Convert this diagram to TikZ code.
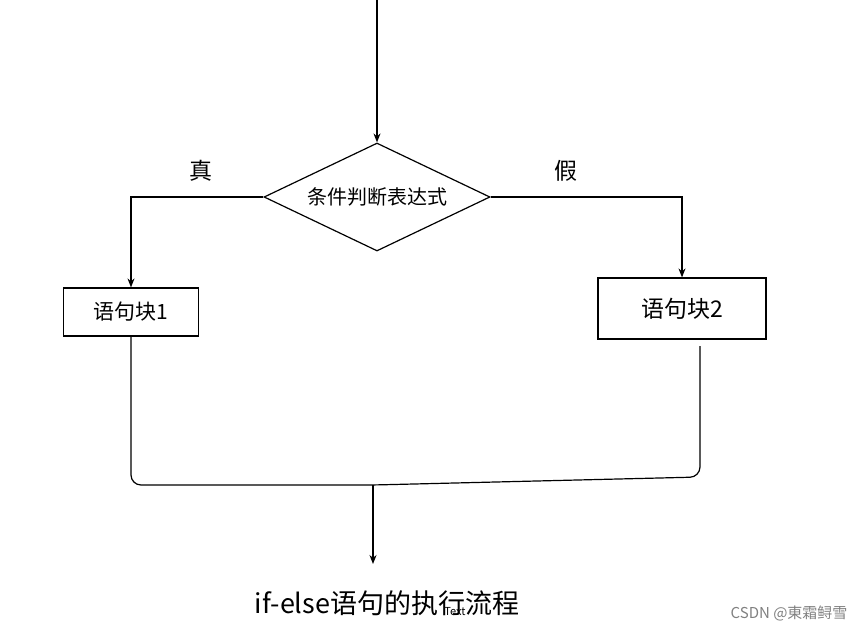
\documentclass[tikz,border=0pt]{standalone}
\usepackage{fontspec}
\setmainfont{Noto Sans CJK SC}
\usetikzlibrary{positioning, arrows.meta, shapes.geometric}

\begin{document}
\begin{tikzpicture}[x=1pt, y=-1pt,
    decision/.style={draw, diamond, aspect=2.09, minimum width=226pt,
                     minimum height=108pt, inner sep=0pt, line width=1.2pt,
                     font=\fontsize{20}{22}\selectfont},
    block/.style={draw, rectangle, inner sep=0pt, line width=1.2pt,
                  font=\fontsize{21}{24}\selectfont},
    flow/.style={-{Stealth[length=9pt, width=7pt]}, line width=1.2pt},
    merge/.style={line width=1.2pt, rounded corners=10pt}
  ]
    \useasboundingbox (0,0) rectangle (865,635);
    \coordinate (start) at (377,0);
    \node[decision] (cond) at (377,197) {条件判断表达式};
    \node[block, minimum width=135pt, minimum height=48pt] (blk1) at (131,312) {语句块1};
    \node[block, minimum width=168pt, minimum height=61pt,
          font=\fontsize{23}{26}\selectfont] (blk2) at (682,308.5) {语句块2};
    \node[font=\fontsize{23}{26}\selectfont] (yes) at (201,171) {真};
    \node[font=\fontsize{23}{26}\selectfont] (no)  at (566,171) {假};
    \coordinate (rtop)  at (700,346);
    \coordinate (rjoin) at (700,477);
    \coordinate (join)  at (373,485);
    \coordinate (end)   at (373,564);
    \node[font=\fontsize{27}{30}\selectfont] (title) at (387,603) {if-else语句的执行流程};
    \node[font=\fontsize{11}{12}\selectfont] (tag) at (455,612) {Text};
    \node[gray, anchor=east, font=\fontsize{15}{16}\selectfont] (mark) at (851,613) {CSDN @東霜鲟雪};
    % Branches
    \draw[flow] (start) -- (cond.north);
    \draw[flow] (cond.west) -| (blk1.north);
    \draw[flow] (cond.east) -| (blk2.north);
    % Merge
    \draw[merge] (blk1.south) |- (join) -- (rjoin) -- (rtop);
    \draw[flow] (join) -- (end);
  \end{tikzpicture}
\end{document}
